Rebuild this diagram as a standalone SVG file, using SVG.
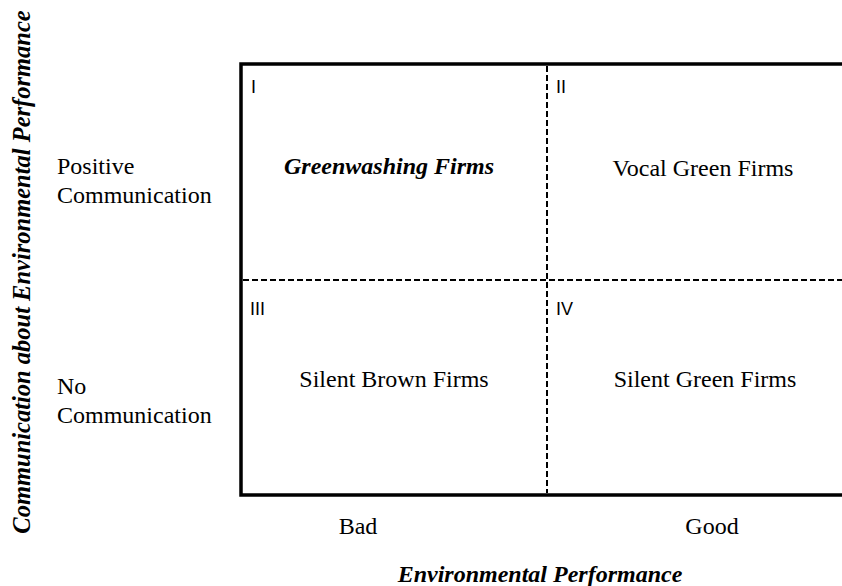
<svg xmlns="http://www.w3.org/2000/svg" width="842" height="586" viewBox="0 0 842 586">
<style>
.t{font-family:"Liberation Serif","Times New Roman",serif;font-size:24px;fill:#000}
.bi{font-weight:bold;font-style:italic}
.n{font-family:"Liberation Sans",Arial,sans-serif;font-size:18px;fill:#000}
.d{stroke:#000;stroke-width:2;stroke-dasharray:6 3;fill:none}
</style>
<rect width="842" height="586" fill="#fff"/>
<g id="frame">
<polyline points="844,64 241,64 241,495 844,495" fill="none" stroke="#000" stroke-width="3.5"/>
</g>
<g id="connectors">
<line class="d" x1="547" y1="66" x2="547" y2="493"/>
<line class="d" x1="243" y1="280" x2="842" y2="280"/>
</g>
<g id="q1"><text class="n" x="251" y="93">I</text><text class="t bi" x="389" y="174" text-anchor="middle">Greenwashing Firms</text></g>
<g id="q2"><text class="n" x="556" y="93">II</text><text class="t" x="703" y="176" text-anchor="middle">Vocal Green Firms</text></g>
<g id="q3"><text class="n" x="250" y="315">III</text><text class="t" x="394" y="387" text-anchor="middle">Silent Brown Firms</text></g>
<g id="q4"><text class="n" x="556" y="315">IV</text><text class="t" x="705" y="387" text-anchor="middle">Silent Green Firms</text></g>
<g id="ylabels">
<text class="t" x="57" y="174">Positive</text>
<text class="t" x="57" y="203">Communication</text>
<text class="t" x="57" y="394">No</text>
<text class="t" x="57" y="423">Communication</text>
</g>
<g id="xlabels">
<text class="t" x="358" y="534" text-anchor="middle">Bad</text>
<text class="t" x="712" y="534" text-anchor="middle">Good</text>
</g>
<g id="axes">
<text class="t bi" x="540" y="582" text-anchor="middle">Environmental Performance</text>
<text class="t bi" style="font-size:24.5px" transform="translate(30,272) rotate(-90)" text-anchor="middle">Communication about Environmental Performance</text>
</g>
</svg>
